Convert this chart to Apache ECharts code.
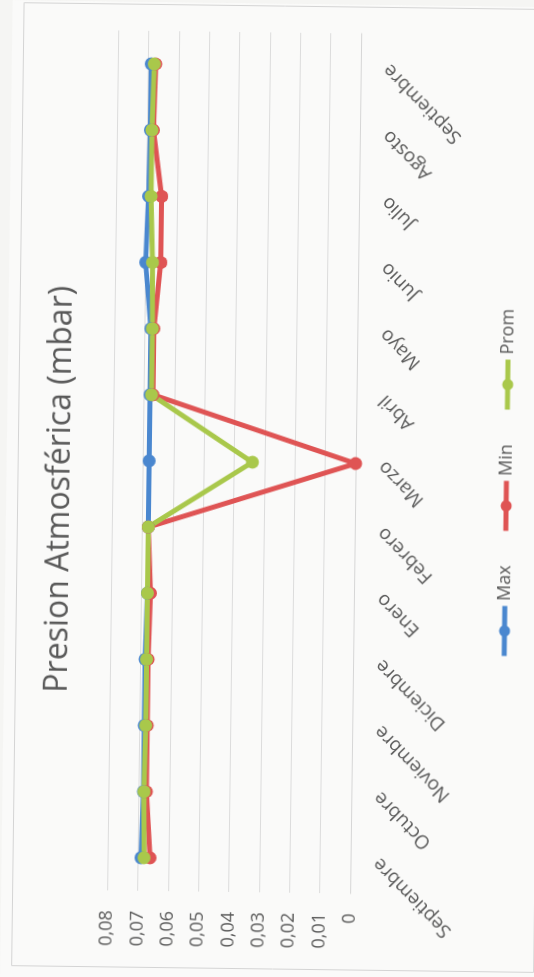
<!DOCTYPE html>
<html>
<head>
<meta charset="utf-8">
<script src="https://cdn.jsdelivr.net/npm/echarts@6/dist/echarts.min.js"></script>
<style>
  html, body { margin: 0; padding: 0; background: #f5f5f3; overflow: hidden; }
  body { width: 534px; height: 977px; position: relative; }
  /* the sheet is printed sideways: the chart is laid out landscape and turned */
  #chart {
    position: absolute; left: 0; top: 0;
    width: 977px; height: 534px;
    transform-origin: 0 0;
    transform: translate(0px, 977px) rotate(-89.26deg);
  }
</style>
</head>
<body>
<div id="chart"></div>
<script>
const months = ['Septiembre', 'Octubre', 'Noviembre', 'Diciembre', 'Enero', 'Febrero',
  'Marzo', 'Abril', 'Mayo', 'Junio', 'Julio', 'Agosto', 'Septiembre'];
const maxValues  = [0.069, 0.0685, 0.0685, 0.0685, 0.068, 0.068, 0.068, 0.068, 0.068, 0.070, 0.0693, 0.069, 0.069];
const minValues  = [0.066, 0.0675, 0.0675, 0.0675, 0.067, 0.068, 0.000, 0.067, 0.067, 0.065, 0.065, 0.068, 0.0675];
const promValues = [0.068, 0.0683, 0.068, 0.068, 0.068, 0.068, 0.034, 0.0675, 0.0675, 0.0677, 0.0685, 0.0685, 0.068];
const valueTicks = ['0', '0,01', '0,02', '0,03', '0,04', '0,05', '0,06', '0,07', '0,08'];

const FONT = '"Open Sans", sans-serif';
const TEXT = '#595959';

const chart = echarts.init(document.getElementById('chart'), null, { renderer: 'canvas' });

function lineSeries(name, data, color) {
  return {
    name, type: 'line', data,
    symbol: 'circle', symbolSize: 13,
    itemStyle: { color },
    lineStyle: { color, width: 5 },
    emphasis: { disabled: true },
    animation: false
  };
}

chart.setOption({
  backgroundColor: '#fafaf9',
  animation: false,
  title: {
    text: 'Presion Atmosférica (mbar)',
    left: 'center', top: 33,
    textStyle: { fontFamily: FONT, fontSize: 32, fontWeight: 'normal', color: TEXT }
  },
  graphic: [{
    type: 'rect', left: 9, top: 9,
    shape: { width: 963, height: 522 },
    style: { fill: 'none', stroke: '#d4d4d4', lineWidth: 1 }
  }],
  grid: { left: 88, right: 29, top: 106, bottom: 185, containLabel: false },
  legend: {
    left: 320, top: 486,
    itemWidth: 50, itemHeight: 14, itemGap: 32,
    lineStyle: { width: 5 },
    textStyle: { fontFamily: FONT, fontSize: 18, color: TEXT },
    data: ['Max', 'Min', 'Prom']
  },
  xAxis: {
    type: 'category', data: months, boundaryGap: true,
    axisLine: { lineStyle: { color: '#d6d6d6' } },
    axisTick: { show: false },
    axisLabel: { rotate: 45, margin: 26, fontFamily: FONT, fontSize: 19, color: TEXT }
  },
  yAxis: {
    type: 'value', min: 0, max: 0.08, interval: 0.01,
    axisLine: { show: false }, axisTick: { show: false },
    splitLine: { lineStyle: { color: '#dcdcdc', width: 1 } },
    axisLabel: {
      margin: 20, fontFamily: FONT, fontSize: 18, color: TEXT,
      formatter: (v) => valueTicks[Math.round(v / 0.01)]
    }
  },
  series: [
    lineSeries('Max', maxValues, '#4a87cf'),
    lineSeries('Min', minValues, '#df5454'),
    lineSeries('Prom', promValues, '#a9c84b')
  ]
});
</script>
</body>
</html>
